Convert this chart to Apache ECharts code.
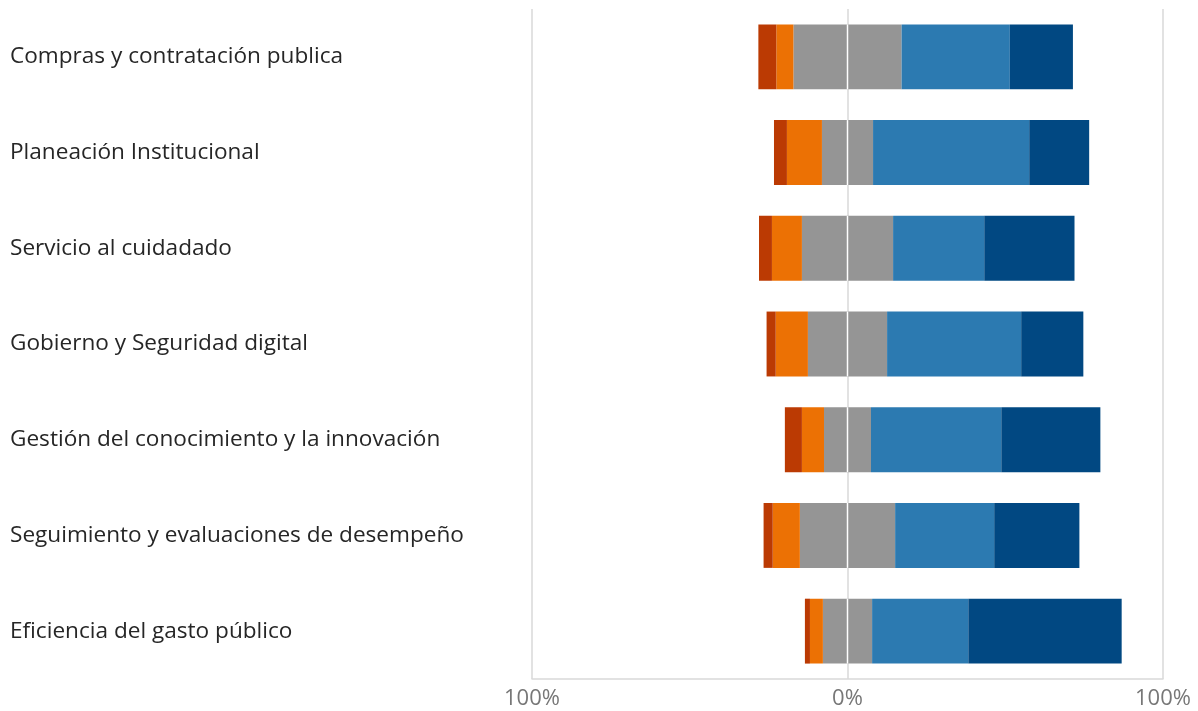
<!DOCTYPE html>
<html>
<head>
<meta charset="utf-8">
<script src="https://cdn.jsdelivr.net/npm/echarts@6/dist/echarts.min.js"></script>
<style>html,body{margin:0;padding:0;background:#fff;}#c{width:1198px;height:711px;}</style>
</head>
<body>
<div id="c"></div>
<script>
const categories = [
  'Compras y contratación publica',
  'Planeación Institucional',
  'Servicio al cuidadado',
  'Gobierno y Seguridad digital',
  'Gestión del conocimiento y la innovación',
  'Seguimiento y evaluaciones de desempeño',
  'Eficiencia del gasto público'
];
const veryNegative = [5.7, 4.1, 4.1, 2.9, 5.4, 2.9, 1.6];
const negative     = [5.4, 11.1, 9.5, 10.2, 7.0, 8.6, 4.1];
const neutral      = [34.3, 16.2, 28.9, 25.1, 14.9, 30.2, 15.6];
const positive     = [34.3, 49.5, 28.9, 42.5, 41.3, 31.4, 30.5];
const veryPositive = [20.0, 19.0, 28.6, 19.7, 31.4, 27.0, 48.6];
const xTicks = [-100, 0, 100];

const colors = {
  veryNeg: '#BB3A03', neg: '#EC7104', neu: '#959595', pos: '#2C7AB1', veryPos: '#014882'
};
const font = '"Open Sans", "Noto Sans", sans-serif';
const bw = '67.8%';

const chart = echarts.init(document.getElementById('c'));
chart.setOption({
  animation: false,
  grid: { left: 532, right: 35, top: 9, bottom: 32, containLabel: false },
  xAxis: {
    type: 'value', min: xTicks[0], max: xTicks[2], interval: 100,
    axisLine: { show: true, lineStyle: { color: '#d9d9d9', width: 1.5 } },
    axisTick: { show: false },
    splitLine: { show: true, lineStyle: { color: '#d9d9d9', width: 1.5 } },
    axisLabel: { formatter: v => Math.abs(v) + '%', color: '#777', fontSize: 22, fontFamily: font, margin: 9 }
  },
  yAxis: {
    type: 'category', data: categories, inverse: true,
    axisLine: { show: false }, axisTick: { show: false },
    axisLabel: { align: 'left', verticalAlign: 'middle', margin: 522, color: '#262626', fontSize: 22.6, fontFamily: font, lineHeight: 26, padding: [8, 0, 0, 0] }
  },
  series: [
    { name: 'neu-', type: 'bar', stack: 's', barWidth: bw, itemStyle: { color: colors.neu }, data: neutral.map(v => -v / 2) },
    { name: 'neg', type: 'bar', stack: 's', barWidth: bw, itemStyle: { color: colors.neg }, data: negative.map(v => -v) },
    { name: 'veryNeg', type: 'bar', stack: 's', barWidth: bw, itemStyle: { color: colors.veryNeg }, data: veryNegative.map(v => -v) },
    { name: 'neu+', type: 'bar', stack: 's', barWidth: bw, itemStyle: { color: colors.neu }, data: neutral.map(v => v / 2) },
    { name: 'pos', type: 'bar', stack: 's', barWidth: bw, itemStyle: { color: colors.pos }, data: positive },
    { name: 'veryPos', type: 'bar', stack: 's', barWidth: bw, itemStyle: { color: colors.veryPos }, data: veryPositive },
    {
      type: 'custom', z: 10, silent: true,
      data: categories.map((c, i) => [0, i]),
      renderItem: function (params, api) {
        const p = api.coord([api.value(0), api.value(1)]);
        const h = api.size([0, 1])[1] * 0.678;
        return { type: 'line', shape: { x1: p[0], y1: p[1] - h / 2, x2: p[0], y2: p[1] + h / 2 }, style: { stroke: '#ffffff', lineWidth: 1.5 } };
      }
    }
  ]
});
</script>
</body>
</html>
